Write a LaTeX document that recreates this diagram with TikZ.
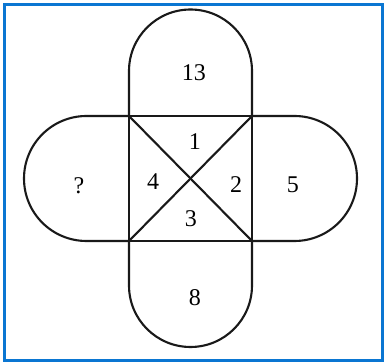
\documentclass[tikz,border=0pt]{standalone}
\usepackage{fontspec}
\setmainfont{Liberation Serif}
\usepackage{xcolor}
\usepackage{tikz}
\usetikzlibrary{positioning}
\definecolor{frameblue}{RGB}{10,118,210}
\tikzset{
  outline/.style = {draw=black!90, line width=2.1pt, line join=round},
  frame/.style   = {draw=frameblue, line width=2.8pt},
  num/.style     = {font=\fontsize{24}{28}\selectfont, inner sep=0pt},
}

\begin{document}
\begin{tikzpicture}[x=1pt, y=1pt]
  \useasboundingbox (0,0) rectangle (384,362);
  \draw[frame] (4.5,1.8) rectangle (382.5,357.5);

  % Square corners
  \coordinate (tl) at (129,246);
  \coordinate (tr) at (252,246);
  \coordinate (bl) at (129,121);
  \coordinate (br) at (252,121);

  % Lobes
  \draw[outline] (tl) -- (129,291) arc[start angle=180, end angle=0, radius=61.5] -- (tr);
  \draw[outline] (bl) -- (129,76.5) arc[start angle=180, end angle=360, radius=61.5] -- (br);
  \draw[outline] (tl) -- (86.5,246) arc[start angle=90, end angle=270, radius=62.5] -- (bl);
  \draw[outline] (tr) -- (294.5,246) arc[start angle=90, end angle=-90, radius=62.5] -- (br);

  % Square and diagonals
  \draw[outline] (tl) -- (tr) -- (br) -- (bl) -- cycle;
  \draw[outline] (tl) -- (br);
  \draw[outline] (bl) -- (tr);

  % Numbers
  \node[num] (top)    at (194,289) {13};
  \node[num] (bottom) at (195,64)  {8};
  \node[num] (left)   at (79,176)  {?};
  \node[num] (right)  at (293,177) {5};
  \node[num] (inN)    at (195,220) {1};
  \node[num] (inE)    at (236,177) {2};
  \node[num] (inS)    at (191,143) {3};
  \node[num] (inW)    at (153,180) {4};

\end{tikzpicture}
\end{document}
